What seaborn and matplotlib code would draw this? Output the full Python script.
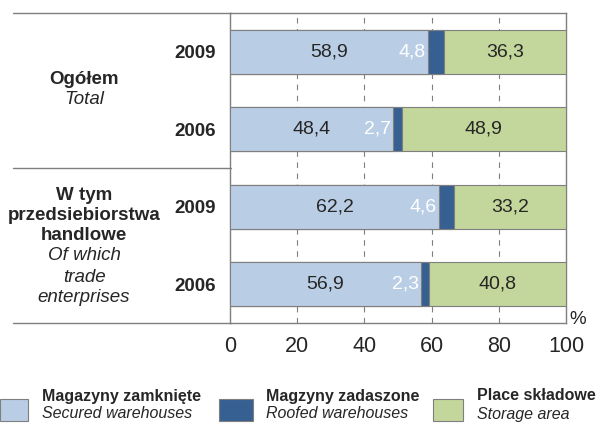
import numpy as np
import pandas as pd
import matplotlib
matplotlib.use("Agg")
import matplotlib.pyplot as plt
import seaborn as sns
from matplotlib.lines import Line2D
from matplotlib.patches import Rectangle

# Data
years = ["2009", "2006", "2009", "2006"]
secured = [58.9, 48.4, 62.2, 56.9]
roofed = [4.8, 2.7, 4.6, 2.3]
storage = [36.3, 48.9, 33.2, 40.8]

legend_pl = ["Magazyny zamknięte", "Magzyny zadaszone", "Place składowe"]
legend_en = ["Secured warehouses", "Roofed warehouses", "Storage area"]
colors = ["#b9cde5", "#376092", "#c3d69b"]

W, H = 599, 424

sns.set_style("white")
plt.rcParams["font.family"] = ["Liberation Sans", "DejaVu Sans"]


def fx(px):
    return px / W


def fy(py):
    return 1 - py / H


fig = plt.figure(figsize=(W / 100, H / 100), dpi=100)
ax = fig.add_axes([fx(230), fy(323), fx(566) - fx(230), fy(13) - fy(323)])

df = pd.DataFrame({
    "row": [str(i) for i in range(len(years))],
    "secured": secured,
    "roofed": roofed,
    "storage": storage,
})
df["cum2"] = df["secured"] + df["roofed"]
df["cum3"] = df["cum2"] + df["storage"]

# layered bars: total first, then shorter cumulative ones on top
for col, c in zip(["cum3", "cum2", "secured"], colors[::-1]):
    sns.barplot(data=df, x=col, y="row", orient="h", color=c, width=0.57,
                edgecolor="#7f7f7f", linewidth=0.8, saturation=1, ax=ax, zorder=3)

ax.set_xlim(0, 100)
ax.set_ylim(3.5, -0.5)
ax.set_xticks([0, 20, 40, 60, 80, 100])
ax.set_xticklabels(["0", "20", "40", "60", "80", "100"], fontsize=15.5)
ax.set_yticks(range(len(years)))
ax.set_yticklabels(years, fontsize=13.5, fontweight="bold")
ax.tick_params(axis="y", length=0, pad=10)
ax.tick_params(axis="x", length=0, pad=9)
ax.set_xlabel("")
ax.set_ylabel("")
for x in [20, 40, 60, 80]:
    ax.axvline(x, color="#7f7f7f", linestyle=(0, (5, 5)), linewidth=0.8, zorder=1)
for s in ax.spines.values():
    s.set_color("#7f7f7f")
    s.set_linewidth(1)

# value labels
for i in range(len(years)):
    ax.text(secured[i] / 2, i, f"{secured[i]:.1f}".replace(".", ","),
            ha="center", va="center", fontsize=14, zorder=5)
    ax.text(secured[i] - 0.6, i, f"{roofed[i]:.1f}".replace(".", ","),
            ha="right", va="center", fontsize=14, color="white", zorder=5)
    ax.text(secured[i] + roofed[i] + storage[i] / 2, i,
            f"{storage[i]:.1f}".replace(".", ","),
            ha="center", va="center", fontsize=14, zorder=5)

fig.text(fx(578), fy(320), "%", ha="center", va="center", fontsize=13.5)

# separator lines on the left
for py in [13, 168, 323]:
    fig.add_artist(Line2D([fx(13), fx(231)], [fy(py), fy(py)],
                          color="#7f7f7f", linewidth=1))

# group labels
fig.text(fx(84), fy(80), "Ogółem", ha="center", va="center", fontsize=13.5, fontweight="bold")
fig.text(fx(84), fy(99), "Total", ha="center", va="center", fontsize=13.5, style="italic")
for txt, py in [("W tym", 195), ("przedsiebiorstwa", 216), ("handlowe", 236)]:
    fig.text(fx(84), fy(py), txt, ha="center", va="center", fontsize=13.5, fontweight="bold")
for txt, py in [("Of which", 256), ("trade", 277), ("enterprises", 297)]:
    fig.text(fx(84), fy(py), txt, ha="center", va="center", fontsize=13.5, style="italic")

# legend
legend_pos = [(0, 28, 42), (219, 253, 266), (433, 463, 477)]
for (x0, x1, tx), c, pl, en in zip(legend_pos, colors, legend_pl, legend_en):
    fig.add_artist(Rectangle((fx(x0), fy(421)), fx(x1) - fx(x0), fy(399) - fy(421),
                             facecolor=c, edgecolor="#7f7f7f", linewidth=0.8))
    fig.text(fx(tx), fy(396), pl, ha="left", va="center", fontsize=11.5, fontweight="bold")
    fig.text(fx(tx), fy(414), en, ha="left", va="center", fontsize=11.5, style="italic")

fig.savefig("out.png", dpi=100, facecolor="white")
